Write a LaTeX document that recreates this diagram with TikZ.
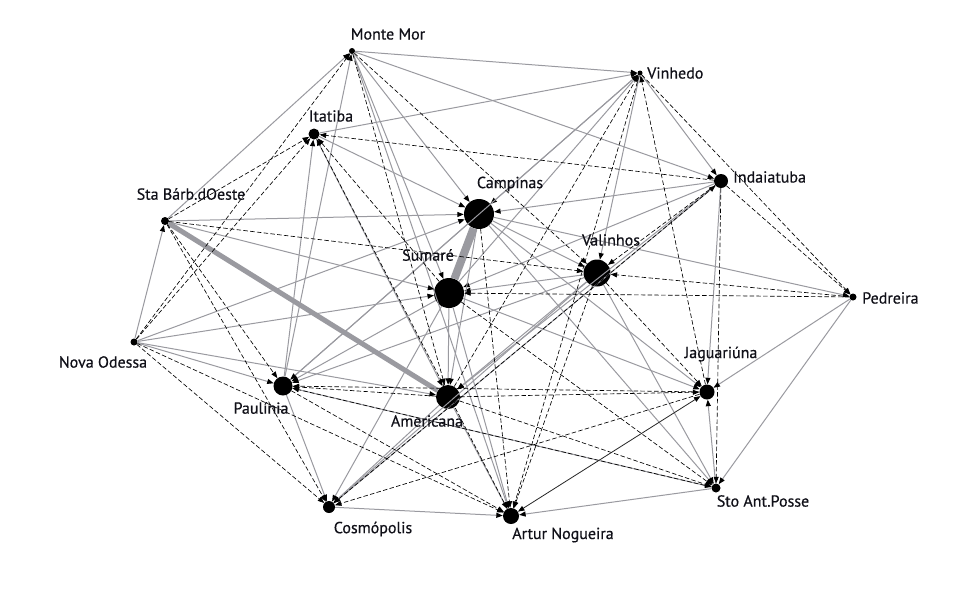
\documentclass[tikz,border=0pt]{standalone}
\usepackage{fontspec}
\setmainfont{PT Sans}[FakeBold=0.5]
\usetikzlibrary{arrows.meta}
\definecolor{linegray}{HTML}{9A9AA0}
\definecolor{txt}{HTML}{101018}
\tikzset{
  city/.style={circle, fill=black, draw=none, inner sep=0pt, minimum size=#1},
  lab/.style={font=\fontsize{16}{18}\selectfont, text=txt, inner sep=0pt},
  tip/.tip={Triangle[length=6.5pt,width=5pt,color=black]},
  ge/.style={draw=linegray, line width=1pt, -tip},
  de/.style={draw=black, line width=0.65pt, dash pattern=on 4.5pt off 2.3pt, -tip},
  be/.style={draw=black!85, line width=0.8pt, tip-tip},
  heavy/.style={draw=linegray, line width=#1}
}
\begin{document}
\begin{tikzpicture}[x=1pt,y=-1pt]
\path[use as bounding box, fill=white] (0,0) rectangle (964,590);
% nodes
\node[city=6pt]  (MM) at (352,51) {};
\node[city=5pt]  (VI) at (640,73) {};
\node[city=11pt] (IT) at (314,134) {};
\node[city=14pt] (IN) at (721,181) {};
\node[city=8pt]  (SB) at (165,221) {};
\node[city=30pt] (CA) at (479,214) {};
\node[city=27pt] (VA) at (597,273) {};
\node[city=30pt] (SU) at (449,293) {};
\node[city=7pt]  (PE) at (853,297) {};
\node[city=7pt]  (NO) at (134,342) {};
\node[city=15pt] (JA) at (707,392) {};
\node[city=19pt] (PA) at (283,386) {};
\node[city=24pt] (AM) at (448,397) {};
\node[city=9pt]  (SP) at (716,488) {};
\node[city=12pt] (CO) at (329,507) {};
\node[city=16pt] (AN) at (511,516) {};
% heavy edges
\draw[heavy=5pt] (SB) -- (AM);
\draw[heavy=8pt] (CA) -- (SU);
% gray edges
\foreach \a/\b in {MM/VI, MM/IN, IT/VI, SB/MM, PA/MM, MM/SU, MM/CA, MM/AN, IT/CA, SB/CA, SB/SU,
  NO/SB, NO/SU, NO/CA, NO/AM, NO/PA, PA/IT, IT/AM, VI/CA, SU/VI, VI/VA, VI/IN, PA/VI,
  IN/CA, IN/SU, IN/AM, IN/CO, IN/JA, CA/PE, PE/JA, PE/SP, CA/VA, CA/JA, CA/SP, VA/SU,
  VA/CO, VA/PA, CA/PA, SU/PA, SU/AM, CA/AM, SU/CO, SU/JA, PA/SP, PA/CO, AM/CO, SP/AN,
  CO/AN, SP/JA, AM/AN, SU/AN, VA/SP, VA/AM}
  \draw[ge] (\a) -- (\b);
% dashed edges
\foreach \a/\b in {NO/MM, SB/IT, NO/IT, MM/VA, IN/IT, SB/VA, SB/PA, SB/CO, NO/CO, NO/AN,
  SU/IT, AN/IT, MM/AM, AM/VI, JA/VI, VI/PE, VI/AN, IN/VA, IN/SP, IN/PE, CO/IN, PE/VA,
  PE/SU, CA/AN, JA/CO, AM/JA, JA/PA, AM/PA, AM/SP, PA/AN, SP/PA, VA/AN, VA/JA, SU/SP}
  \draw[de] (\a) -- (\b);
% black solid
\draw[be] (AN) -- (JA);
% labels
\node[lab] (lMM) at (388,34) {Monte Mor};
\node[lab, anchor=west] (lVI) at (647,73) {Vinhedo};
\node[lab] (lIT) at (331,116) {Itatiba};
\node[lab, anchor=west] (lIN) at (733,177) {Indaiatuba};
\node[lab] (lSB) at (191,194) {Sta Bárb.dOeste};
\node[lab] (lCA) at (510,184) {Campinas};
\node[lab] (lVA) at (611,240) {Valinhos};
\node[lab] (lSU) at (428,255) {Sumaré};
\node[lab, anchor=west] (lPE) at (862,298) {Pedreira};
\node[lab] (lNO) at (103,362) {Nova Odessa};
\node[lab] (lJA) at (721,354) {Jaguariúna};
\node[lab] (lPA) at (261,408) {Paulínia};
\node[lab] (lAM) at (427,421) {Americana};
\node[lab] (lSP) at (763,501) {Sto Ant.Posse};
\node[lab] (lCO) at (373,529) {Cosmópolis};
\node[lab] (lAN) at (563,535) {Artur Nogueira};
\end{tikzpicture}
\end{document}
